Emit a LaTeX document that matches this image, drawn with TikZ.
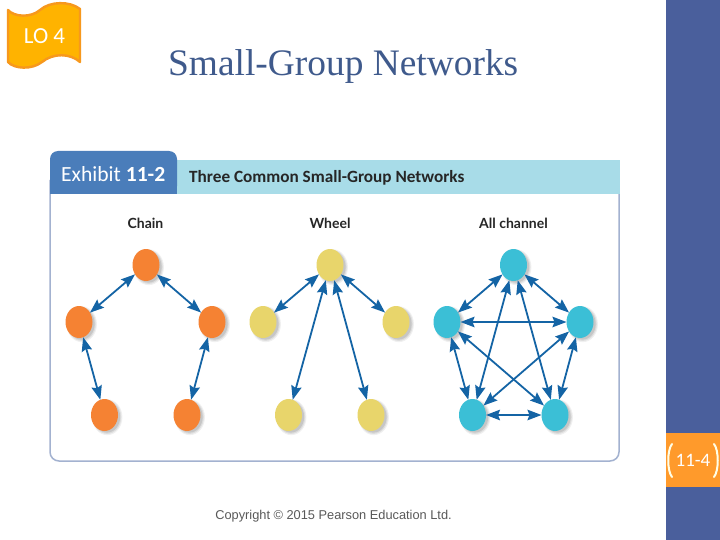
\documentclass[tikz,border=0pt]{standalone}
\usepackage{fontspec}
\setmainfont{Carlito}
\newfontfamily\titlefont{Liberation Serif}
\newfontfamily\arialfont{Liberation Sans}
\newfontfamily\lbl{Lato}
\usetikzlibrary{shapes.geometric,arrows.meta,shadows}
\definecolor{sidebar}{HTML}{4A5F9C}
\definecolor{orangebar}{HTML}{FF9A2B}
\definecolor{flagfill}{HTML}{FFB300}
\definecolor{flagline}{HTML}{F7981D}
\definecolor{titlecol}{HTML}{3F5A8C}
\definecolor{tabcol}{HTML}{4A7DBA}
\definecolor{bandcol}{HTML}{A8DCE8}
\definecolor{panelline}{HTML}{A3B2D0}
\definecolor{arrcol}{HTML}{1464A5}
\definecolor{orn}{HTML}{F58233}
\definecolor{yel}{HTML}{E8D56B}
\definecolor{cyn}{HTML}{3BBFD6}
\tikzset{
  x=1pt,y=-1pt,
  dot/.style={ellipse,minimum width=27pt,minimum height=32pt,inner sep=0pt,outer sep=0pt,
    general shadow={shadow xshift=2.5pt,shadow yshift=-2pt,shadow scale=1.12,fill=black,opacity=.06},
    general shadow={shadow xshift=2.5pt,shadow yshift=-2pt,shadow scale=1.05,fill=black,opacity=.08},
    general shadow={shadow xshift=2.5pt,shadow yshift=-2pt,shadow scale=.98,fill=black,opacity=.10}},
  orndot/.style={dot,fill=orn},
  yeldot/.style={dot,fill=yel},
  cyndot/.style={dot,fill=cyn},
  arr/.style={draw=arrcol,line width=1.8pt,{Stealth[length=14pt,width=10.5pt,inset=2pt]}-{Stealth[length=14pt,width=10.5pt,inset=2pt]}},
  head/.style={font=\lbl\bfseries\fontsize{14}{16}\selectfont,text=black!85,inner sep=0pt},
  brack/.style={draw=white!90!yellow,line width=2pt,line cap=round}
}
\begin{document}
\begin{tikzpicture}
\useasboundingbox (0,0) rectangle (720,540);
\fill[white] (0,0) rectangle (720,540);
% sidebar
\fill[sidebar] (666,0) rectangle (720,540);
\fill[orangebar] (666,433) rectangle (720,487);
\draw[brack] (672,444) .. controls (667,450) and (667,471) .. (672,477);
\draw[brack] (714,444) .. controls (719,450) and (719,471) .. (714,477);
\node[text=white,font=\fontsize{19}{21}\selectfont,inner sep=0pt] (pg) at (693,460) {11-4};
% flag
\draw[fill=flagfill,draw=flagline,line width=2.4pt,line join=round]
  (8,10) .. controls (14,17) and (31,18) .. (40,10)
  .. controls (50,1) and (70,1) .. (80,9)
  -- (80,62)
  .. controls (70,53) and (53,53) .. (42,62)
  .. controls (32,70) and (14,69) .. (8,62) -- cycle;
\node[text=white,font=\fontsize{23}{25}\selectfont,inner sep=0pt] (lo) at (44.5,36.5) {LO 4};
% title
\node[anchor=base west,text=titlecol,font=\titlefont\fontsize{37.4}{40}\selectfont,inner sep=0pt] (title) at (168,76) {Small-Group Networks};
% panel
\draw[panelline,line width=1.5pt,rounded corners=9pt] (50,180) -- (50,461) -- (619,461) -- (619,180);
\fill[bandcol] (170,160) rectangle (620,194);
\fill[tabcol,rounded corners=8pt] (50,194) -- (50,151) -- (177,151) -- (177,194) -- cycle;
\fill[tabcol] (50,185) rectangle (177,194);
\node[anchor=base west,text=white,font=\fontsize{21.6}{24}\selectfont,inner sep=0pt] (ex) at (61,182) {Exhibit \textbf{11-2}};
\node[anchor=base west,text=black!85,font=\bfseries\fontsize{17.2}{22}\selectfont,inner sep=0pt] (three) at (189,182.5) {Three Common Small-Group Networks};
\node[head] (h1) at (145.5,223) {Chain};
\node[head] (h2) at (330,223) {Wheel};
\node[head] (h3) at (513.5,223) {All channel};
% chain
\node[orndot] (a1) at (146,265) {};
\node[orndot] (a2) at (79,322) {};
\node[orndot] (a3) at (212,322) {};
\node[orndot] (a4) at (104.5,415) {};
\node[orndot] (a5) at (187,415) {};
\draw[arr] (a1) -- (a2);
\draw[arr] (a1) -- (a3);
\draw[arr] (a2) -- (a4);
\draw[arr] (a3) -- (a5);
% wheel
\node[yeldot] (b1) at (330,265) {};
\node[yeldot] (b2) at (263,322) {};
\node[yeldot] (b3) at (396,322) {};
\node[yeldot] (b4) at (288.5,415) {};
\node[yeldot] (b5) at (371,415) {};
\draw[arr] (b1) -- (b2);
\draw[arr] (b1) -- (b3);
\draw[arr] (b1) -- (b4);
\draw[arr] (b1) -- (b5);
% all channel
\node[cyndot] (c1) at (513.5,265) {};
\node[cyndot] (c2) at (447,322) {};
\node[cyndot] (c3) at (580,322) {};
\node[cyndot] (c4) at (472.5,415) {};
\node[cyndot] (c5) at (555,415) {};
\draw[arr] (c1) -- (c2);
\draw[arr] (c1) -- (c3);
\draw[arr] (c1) -- (c4);
\draw[arr] (c1) -- (c5);
\draw[arr] (c2) -- (c3);
\draw[arr] (c2) -- (c4);
\draw[arr] (c2) -- (c5);
\draw[arr] (c3) -- (c4);
\draw[arr] (c3) -- (c5);
\draw[arr] (c4) -- (c5);
% copyright
\node[text=black!65,font=\arialfont\fontsize{12.8}{14}\selectfont,inner sep=0pt] (copy) at (333.5,516) {Copyright © 2015 Pearson Education Ltd.};
\end{tikzpicture}
\end{document}
